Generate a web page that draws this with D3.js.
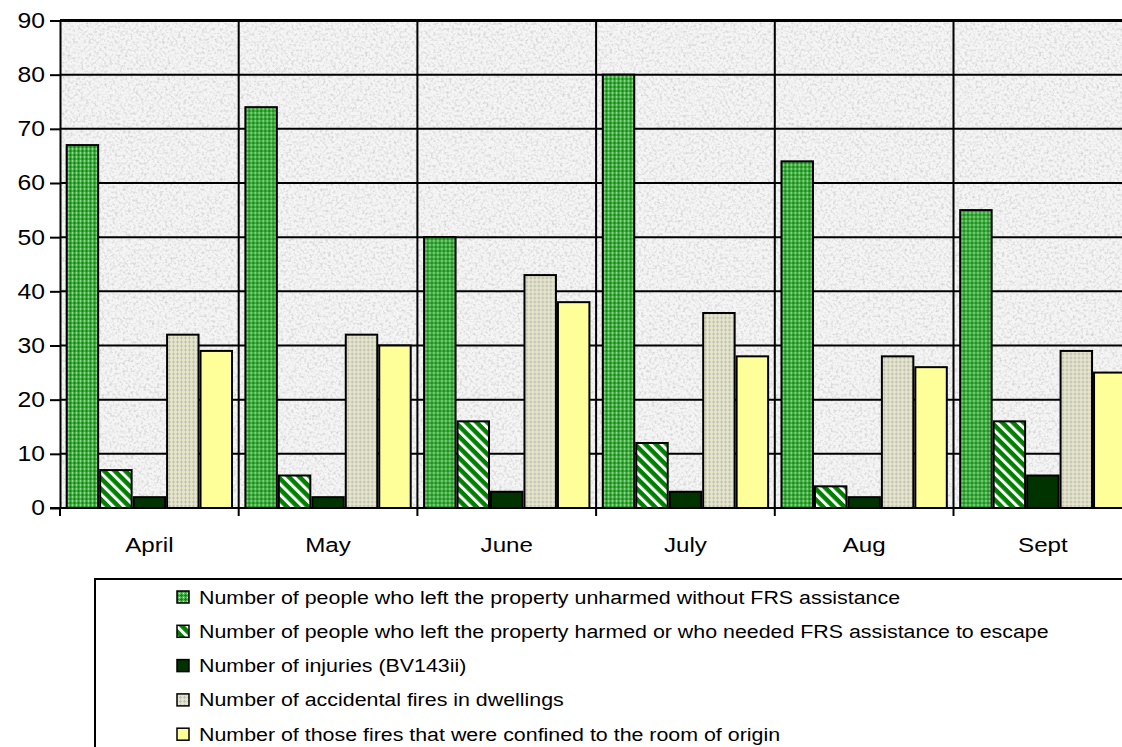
<!DOCTYPE html>
<html>
<head>
<meta charset="utf-8">
<script src="https://cdn.jsdelivr.net/npm/d3@7"></script>
<style>
  body { margin: 0; background: #fff; }
  svg { display: block; font-family: Arial, "Liberation Sans", sans-serif; }
</style>
</head>
<body>
<svg id="chart"></svg>
<script>
var months = ["April", "May", "June", "July", "Aug", "Sept"];
var seriesNames = [
  "Number of people who left the property unharmed without FRS assistance",
  "Number of people who left the property harmed or who needed FRS assistance to escape",
  "Number of injuries (BV143ii)",
  "Number of accidental fires in dwellings",
  "Number of those fires that were confined to the room of origin"
];
var unharmed = [67, 74, 50, 80, 64, 55];
var harmed = [7, 6, 16, 12, 4, 16];
var injuries = [2, 2, 3, 3, 2, 6];
var accidentalFires = [32, 32, 43, 36, 28, 29];
var confinedFires = [29, 30, 38, 28, 26, 25];
var yTicks = [0, 10, 20, 30, 40, 50, 60, 70, 80, 90];

var allSeries = [unharmed, harmed, injuries, accidentalFires, confinedFires];
var fills = ["url(#p-unharmed)", "url(#p-harmed)", "#003300", "url(#p-fires)", "#ffff99"];

var W = 1122, H = 747;
var margin = { top: 20.5, left: 60 },
  catWidth = 178.7,
  plotW = catWidth * months.length,
  plotH = 487.5;
var stretch = 1.15; // text in the picture is a bit wider than plain Arial

var svg = d3.select("#chart").attr("width", W).attr("height", H);
var defs = svg.append("defs");

// granite-ish background texture
var f = defs.append("filter").attr("id", "granite")
  .attr("x", 0).attr("y", 0).attr("width", 1).attr("height", 1);
f.append("feTurbulence").attr("type", "fractalNoise")
  .attr("baseFrequency", 0.38).attr("numOctaves", 3).attr("seed", 7).attr("result", "n");
f.append("feColorMatrix").attr("in", "n").attr("type", "matrix")
  .attr("values", "0 0 0 0 0.62  0 0 0 0 0.62  0 0 0 0 0.62  2.2 0 0 0 -0.98");

function px(p, x, y, w, h, c) {
  p.append("rect").attr("x", x).attr("y", y).attr("width", w).attr("height", h).attr("fill", c);
}

// pattern: green confetti / plus
var p1 = defs.append("pattern").attr("id", "p-unharmed")
  .attr("patternUnits", "userSpaceOnUse").attr("width", 4).attr("height", 4);
px(p1, 0, 0, 4, 4, "#52b752");
px(p1, 2, 1, 1, 3, "#0e870e");
px(p1, 1, 2, 3, 1, "#0e870e");
px(p1, 0, 0, 1, 1, "#d2f0d2");

// pattern: wide downward diagonal stripes
var p2 = defs.append("pattern").attr("id", "p-harmed")
  .attr("patternUnits", "userSpaceOnUse").attr("width", 7.5).attr("height", 10)
  .attr("patternTransform", "rotate(-45)");
px(p2, 0, 0, 7.5, 10, "#008000");
px(p2, 0, 0, 3, 10, "#ffffff");

// pattern: beige with grey plus
var p4 = defs.append("pattern").attr("id", "p-fires")
  .attr("patternUnits", "userSpaceOnUse").attr("width", 4).attr("height", 4);
px(p4, 0, 0, 4, 4, "#e6e6c6");
px(p4, 1, 0, 1, 3, "#bdbdbd");
px(p4, 0, 1, 3, 1, "#bdbdbd");

var x0 = d3.scaleBand().domain(months).range([0, plotW]).padding(0);
var x1 = d3.scaleBand().domain(d3.range(allSeries.length))
  .range([0, x0.bandwidth()]).paddingInner(0).paddingOuter(0.17);
var y = d3.scaleLinear().domain([0, 90]).range([plotH, 0]);

var g = svg.append("g").attr("transform", "translate(" + margin.left + "," + margin.top + ")");

// plot background
g.append("rect").attr("width", plotW).attr("height", plotH).attr("fill", "#f5f5f5");
g.append("rect").attr("width", plotW).attr("height", plotH).attr("filter", "url(#granite)");

// horizontal gridlines
g.selectAll(".hgrid").data(yTicks.slice(1)).enter().append("line")
  .attr("x1", 0).attr("x2", plotW)
  .attr("y1", function(d) { return y(d); }).attr("y2", function(d) { return y(d); })
  .attr("stroke", "#000").attr("stroke-width", 2);
// vertical gridlines at category boundaries
g.selectAll(".vgrid").data(months.slice(1)).enter().append("line")
  .attr("x1", function(d) { return x0(d); }).attr("x2", function(d) { return x0(d); })
  .attr("y1", 0).attr("y2", plotH)
  .attr("stroke", "#000").attr("stroke-width", 2);

// bars
var groups = g.selectAll(".month").data(months).enter().append("g")
  .attr("transform", function(d) { return "translate(" + x0(d) + ",0)"; });
groups.selectAll("rect")
  .data(function(d, i) { return allSeries.map(function(s, k) { return { k: k, v: s[i] }; }); })
  .enter().append("rect")
  .attr("x", function(d) { return x1(d.k) + 1; })
  .attr("width", x1.bandwidth() - 2)
  .attr("y", function(d) { return y(d.v); })
  .attr("height", function(d) { return plotH - y(d.v); })
  .attr("fill", function(d) { return fills[d.k]; })
  .attr("stroke", "#000").attr("stroke-width", 2);

// y axis
var yAxis = g.append("g")
  .call(d3.axisLeft(y).tickValues(yTicks).tickSize(10).tickPadding(5).tickSizeOuter(0));
yAxis.select(".domain").attr("stroke-width", 2);
yAxis.selectAll(".tick line").attr("stroke-width", 2);
yAxis.selectAll("text").attr("font-size", 21.5).attr("fill", "#000")
  .attr("font-family", "Arial, 'Liberation Sans', sans-serif")
  .attr("x", -15 / stretch)
  .attr("transform", "scale(" + stretch + ",1)");

// x axis
var xTickPos = months.map(function(m) { return x0(m); }).concat([plotW]);
var xAxis = g.append("g").attr("transform", "translate(0," + plotH + ")");
xAxis.append("line").attr("x1", -10).attr("x2", plotW).attr("stroke", "#000").attr("stroke-width", 2);
xAxis.selectAll(".xt").data(xTickPos).enter().append("line")
  .attr("x1", function(d) { return d; }).attr("x2", function(d) { return d; })
  .attr("y1", 0).attr("y2", 8).attr("stroke", "#000").attr("stroke-width", 2);
xAxis.selectAll(".xl").data(months).enter().append("text")
  .attr("transform", function(d) {
    return "translate(" + (x0(d) + x0.bandwidth() / 2) + ",44) scale(" + stretch + ",1)";
  })
  .attr("text-anchor", "middle")
  .attr("font-size", 21).attr("fill", "#000")
  .text(function(d) { return d; });

// top border of plot
g.append("line").attr("x1", 0).attr("x2", plotW).attr("y1", 0).attr("y2", 0)
  .attr("stroke", "#000").attr("stroke-width", 3);

// legend
var legend = svg.append("g").attr("transform", "translate(95,579)");
legend.append("rect").attr("width", 1100).attr("height", 300)
  .attr("fill", "#fff").attr("stroke", "#000").attr("stroke-width", 2);
var items = legend.selectAll(".item").data(seriesNames).enter().append("g")
  .attr("transform", function(d, i) { return "translate(0," + (18 + i * 34.3) + ")"; });
items.append("rect").attr("x", 82).attr("y", -6).attr("width", 12).attr("height", 12)
  .attr("fill", function(d, i) { return fills[i]; })
  .attr("stroke", "#000").attr("stroke-width", 1.5);
items.append("text")
  .attr("transform", "translate(104,0) scale(" + stretch + ",1)")
  .attr("dy", "0.35em")
  .attr("font-size", 18.6).attr("fill", "#000")
  .text(function(d) { return d; });
</script>
</body>
</html>
